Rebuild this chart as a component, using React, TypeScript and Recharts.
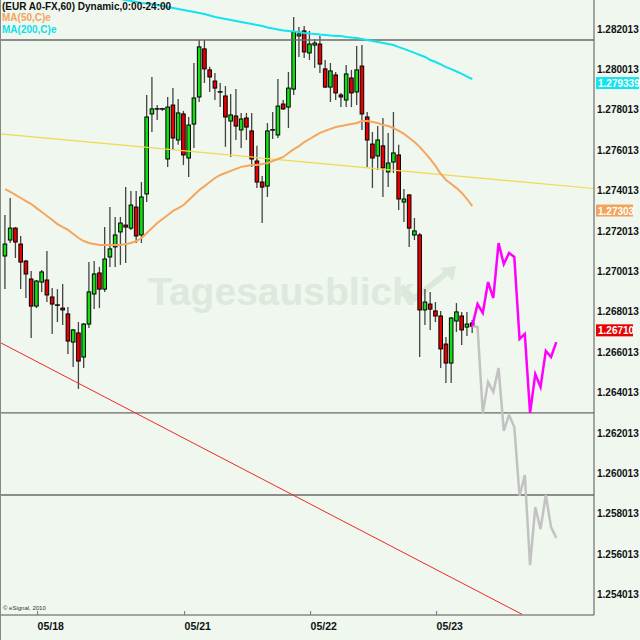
import { Bar, ComposedChart, Line, ReferenceDot, ReferenceLine, XAxis, YAxis } from "recharts";

// hourly EUR/USD candles (60 min)
const opens = [
  1.27078, 1.27157, 1.27216, 1.27137, 1.27053, 1.26964, 1.2683, 1.26949, 1.26959, 1.26875,
  1.26835, 1.2682, 1.26791, 1.26652, 1.26697, 1.26578, 1.26741, 1.2689, 1.26994, 1.26914,
  1.27073, 1.27123, 1.27197, 1.27231, 1.27216, 1.2732, 1.27182, 1.27385, 1.27781, 1.27806,
  1.27806, 1.27558, 1.27825, 1.27652, 1.27781, 1.27563, 1.27731, 1.27865, 1.28103, 1.27999,
  1.27944, 1.2789, 1.2787, 1.27746, 1.27771, 1.27702, 1.27761, 1.27697, 1.27548, 1.27444,
  1.27424, 1.27702, 1.27677, 1.2783, 1.27815, 1.27904, 1.28167, 1.28192, 1.28083, 1.28122,
  1.28127, 1.28004, 1.27914, 1.27974, 1.27875, 1.2785, 1.27959, 1.2789, 1.28018, 1.27766,
  1.27632, 1.27573, 1.27623, 1.27494, 1.27543, 1.27578, 1.27345, 1.2738, 1.27182, 1.27182,
  1.26811, 1.2684, 1.26806, 1.26781, 1.26642, 1.26548, 1.26756, 1.26781, 1.26726, 1.26746,
];
const closes = [
  1.27137, 1.27216, 1.27147, 1.27048, 1.26989, 1.2683, 1.26954, 1.26999, 1.26885, 1.2684,
  1.26833, 1.26811, 1.26657, 1.26712, 1.26558, 1.26741, 1.269, 1.26989, 1.26914, 1.27063,
  1.27113, 1.27182, 1.27241, 1.27221, 1.2733, 1.27177, 1.2737, 1.27766, 1.27806, 1.27806,
  1.27801, 1.27815, 1.27662, 1.27786, 1.27578, 1.27726, 1.2786, 1.28113, 1.28004, 1.27964,
  1.27909, 1.27887, 1.27766, 1.27776, 1.27721, 1.27756, 1.27716, 1.27558, 1.27444, 1.27419,
  1.27697, 1.27699, 1.2782, 1.27806, 1.27909, 1.28187, 1.28177, 1.28088, 1.28127, 1.28132,
  1.28028, 1.27914, 1.27994, 1.27885, 1.27865, 1.27979, 1.27885, 1.27999, 1.27781, 1.27652,
  1.27563, 1.27652, 1.27514, 1.27538, 1.27588, 1.2736, 1.2736, 1.27216, 1.27202, 1.26811,
  1.2685, 1.26815, 1.26781, 1.26618, 1.26548, 1.26771, 1.26801, 1.26712, 1.26741, 1.26731,
];
const highs = [
  1.27281, 1.27365, 1.27221, 1.27177, 1.27058, 1.27004, 1.26959, 1.27009, 1.27103, 1.26919,
  1.26914, 1.26939, 1.26825, 1.26717, 1.26751, 1.26746, 1.27048, 1.27053, 1.27024, 1.27221,
  1.2732, 1.27271, 1.27271, 1.27419, 1.274, 1.274, 1.27444, 1.27875, 1.27964, 1.27825,
  1.27811, 1.27865, 1.27909, 1.27855, 1.27796, 1.27766, 1.28033, 1.28147, 1.28147, 1.28014,
  1.27984, 1.27934, 1.27919, 1.2788, 1.27904, 1.27786, 1.27786, 1.27786, 1.27623, 1.27474,
  1.27736, 1.27791, 1.27954, 1.2785, 1.27989, 1.28261, 1.28211, 1.28216, 1.28192, 1.28152,
  1.28167, 1.28048, 1.28033, 1.27989, 1.27885, 1.28023, 1.27999, 1.28117, 1.28122, 1.27791,
  1.27692, 1.27721, 1.27761, 1.27687, 1.27791, 1.27628, 1.2741, 1.27385, 1.27266, 1.27192,
  1.26914, 1.269, 1.2685, 1.26806, 1.26677, 1.26776, 1.26845, 1.26801, 1.26801, 1.26761,
];
const lows = [
  1.26914, 1.27142, 1.27068, 1.26914, 1.2687, 1.26672, 1.2682, 1.269, 1.2685, 1.26692,
  1.26751, 1.26736, 1.26593, 1.26529, 1.2642, 1.26524, 1.26721, 1.26815, 1.2682, 1.269,
  1.27024, 1.27024, 1.27034, 1.27043, 1.27207, 1.27142, 1.27142, 1.27345, 1.27692, 1.27751,
  1.27796, 1.27519, 1.27603, 1.27628, 1.27528, 1.27469, 1.27613, 1.2784, 1.27934, 1.2789,
  1.2785, 1.27815, 1.27618, 1.27568, 1.27652, 1.27613, 1.27652, 1.27519, 1.27414, 1.27241,
  1.2737, 1.27657, 1.27662, 1.27801, 1.27711, 1.27875, 1.28063, 1.28058, 1.28048, 1.28008,
  1.27984, 1.27909, 1.2784, 1.2785, 1.27815, 1.27815, 1.27815, 1.27825, 1.27702, 1.27519,
  1.27414, 1.27504, 1.2737, 1.27419, 1.27489, 1.27306, 1.27246, 1.27123, 1.27157, 1.26578,
  1.26736, 1.26712, 1.26751, 1.26524, 1.26449, 1.26449, 1.26702, 1.26637, 1.26682, 1.26697,
];

const ma50 = [
  1.27409, 1.27395, 1.2738, 1.27365, 1.2735, 1.27335, 1.27315, 1.27296, 1.27276, 1.27256,
  1.27236, 1.27221, 1.27207, 1.27187, 1.27167, 1.27152, 1.27142, 1.27137, 1.27132, 1.27132,
  1.27132, 1.27132, 1.27132, 1.27137, 1.27142, 1.27152, 1.27167, 1.27192, 1.27216, 1.27241,
  1.27261, 1.27281, 1.27301, 1.27315, 1.2733, 1.27355, 1.2738, 1.27405, 1.27424, 1.27444,
  1.27464, 1.27479, 1.27489, 1.27499, 1.27509, 1.27519, 1.27523, 1.27528, 1.27528, 1.27533,
  1.27538, 1.27548, 1.27558, 1.27568, 1.27588, 1.27607, 1.27622, 1.27642, 1.27657, 1.27672,
  1.27687, 1.27697, 1.27707, 1.27716, 1.27721, 1.27726, 1.27731, 1.27736, 1.27746, 1.27746,
  1.27741, 1.27736, 1.27726, 1.27721, 1.27711, 1.27697, 1.27682, 1.27662, 1.27642, 1.27617,
  1.27588, 1.27558, 1.27523, 1.27484, 1.27454, 1.27434, 1.27414, 1.2739, 1.2736, 1.27325,
];

// MA(200) only shows from bar 22 on (above the window before that)
const ma200Start = 22;
const ma200 = [
  1.2835, 1.28345, 1.2834, 1.28335, 1.2833, 1.28328, 1.28325, 1.2832, 1.28315, 1.2831,
  1.28305, 1.283, 1.28296, 1.28291, 1.28286, 1.28281, 1.28276, 1.28268, 1.28261, 1.28256,
  1.28251, 1.28246, 1.28241, 1.28236, 1.28231, 1.28226, 1.28221, 1.28216, 1.28209, 1.28204,
  1.28199, 1.28194, 1.28192, 1.28189, 1.28187, 1.28182, 1.28179, 1.28177, 1.28174, 1.28172,
  1.28169, 1.28167, 1.28167, 1.28162, 1.28159, 1.28157, 1.28152, 1.28147, 1.28142, 1.28137,
  1.28132, 1.28127, 1.28122, 1.28112, 1.28103, 1.28093, 1.28083, 1.28073, 1.28063, 1.28048,
  1.28038, 1.28026, 1.28013, 1.28003, 1.27991, 1.27979, 1.27966, 1.27954,
];

// projected paths starting at the last close
const forecastStart = 89;
const upPath = [
  1.26731, 1.2684, 1.26796, 1.26949, 1.2687, 1.27142, 1.27038, 1.27093, 1.27073,
  1.26667, 1.26692, 1.26301, 1.26494, 1.2643, 1.26608, 1.26578, 1.26652,
];
const downPath = [
  1.26731, 1.26726, 1.26301, 1.26454, 1.26405, 1.26524, 1.26212, 1.26291, 1.26231,
  1.2589, 1.25994, 1.25548, 1.25835, 1.25726, 1.25895, 1.25736, 1.25682,
];

const levels = [1.28147, 1.26301, 1.25895];
const yellowTrend = [
  { x: -0.96, y: 1.27682 },
  { x: 112.18, y: 1.27412 },
];
const redTrend = [
  { x: -0.96, y: 1.2665 },
  { x: 98.5, y: 1.25304 },
];

const priceTicks = [
  1.254013, 1.256013, 1.258013, 1.260013, 1.262013, 1.264013, 1.266013, 1.268013,
  1.270013, 1.272013, 1.274013, 1.276013, 1.278013, 1.280013, 1.282013,
];
const dayStarts = [6.2, 34.2, 58.2, 82.2];
const dayLabels = ["05/18", "05/21", "05/22", "05/23"];

const lastTags = [
  { value: 1.279339, text: "1.279339", color: "#10e4ec" },
  { value: 1.27303, text: "1.27303", color: "#f2a45c" },
  { value: 1.2671, text: "1.26710", color: "#e80000" },
];

const FONT = "'Liberation Sans', Arial, sans-serif";
const BG = "#eff7ef";

const rows = Array.from({ length: 106 }, (_, i) => {
  const row: any = { x: i };
  if (i < opens.length) {
    row.open = opens[i];
    row.close = closes[i];
    row.high = highs[i];
    row.low = lows[i];
    row.range = [lows[i], highs[i]];
    row.ma50 = ma50[i];
  }
  const m = i - ma200Start;
  if (m >= 0 && m < ma200.length) row.ma200 = ma200[m];
  const f = i - forecastStart;
  if (f >= 0 && f < upPath.length) {
    row.up = upPath[f];
    row.down = downPath[f];
  }
  return row;
});

function Candle(props: any) {
  const { x, y, width, height, payload } = props;
  if (!payload || payload.open == null) return null;
  const { open, close, high, low } = payload;
  const cx = x + width / 2;
  const k = high > low ? height / (high - low) : 0;
  const oy = y + (high - open) * k;
  const cy = y + (high - close) * k;
  const top = Math.min(oy, cy);
  const h = Math.abs(oy - cy);
  return (
    <g>
      <line x1={cx} x2={cx} y1={y} y2={y + height} stroke="#444" strokeWidth={1.3} />
      {h < 1.3 ? (
        <line x1={cx - 2.5} x2={cx + 2.5} y1={top} y2={top} stroke="#000" strokeWidth={1.5} />
      ) : (
        <rect
          x={cx - 1.8}
          y={top}
          width={3.6}
          height={h}
          fill={close > open ? "#12e012" : "#e60000"}
          stroke="#000"
          strokeWidth={1}
        />
      )}
    </g>
  );
}

function DayTick(props: any) {
  const { x, y, payload } = props;
  const label = dayLabels[dayStarts.indexOf(payload.value)];
  return (
    <g>
      <line x1={x} x2={x} y1={y - 4} y2={y} stroke="#777" />
      <text x={x} y={y + 15} fontSize={10.5} fontWeight="bold" fontFamily={FONT} fill="#111">
        {label}
      </text>
    </g>
  );
}

function PriceTag(props: any) {
  const { cx, cy, color, text } = props;
  if (cx == null || cy == null) return null;
  const w = text.length > 7 ? 43 : 37;
  return (
    <g>
      <rect x={cx + 2} y={cy - 6} width={w} height={12} fill={color} />
      <text x={cx + 4} y={cy + 4} fontSize={10} fontWeight="bold" fontFamily={FONT} fill="#fff">
        {text}
      </text>
    </g>
  );
}

export default function App() {
  return (
    <div
      style={{
        position: "absolute",
        left: 0,
        top: 0,
        width: 640,
        height: 640,
        background: BG,
        overflow: "hidden",
      }}
    >
      <svg width={640} height={640} style={{ position: "absolute", left: 0, top: 0 }}>
        <text x={148} y={305} fontSize={39} fontWeight="bold" fontFamily={FONT} fill="#dde9dd">
          Tagesausblick
        </text>
        <polyline
          points="401,286 414,299 450,270"
          fill="none"
          stroke="#dbe9d9"
          strokeWidth={6}
          strokeLinejoin="round"
        />
        <polygon points="456,266 440,268 453,281" fill="#dbe9d9" />
      </svg>
      <div style={{ position: "absolute", left: 0, top: 0 }}>
        <ComposedChart width={640} height={640} data={rows} margin={{ top: 0, right: 0, bottom: 0, left: 0 }}>
          <XAxis
            dataKey="x"
            type="number"
            domain={[-0.96, 112.18]}
            allowDataOverflow
            ticks={dayStarts}
            interval={0}
            height={25}
            tickSize={0}
            tickMargin={0}
            tick={<DayTick />}
            axisLine={{ stroke: "#555" }}
          />
          <YAxis
            orientation="right"
            type="number"
            domain={[1.25301, 1.28345]}
            allowDataOverflow
            ticks={priceTicks}
            interval={0}
            width={46}
            tickSize={0}
            tickMargin={3}
            tickFormatter={(v: number) => v.toFixed(6)}
            tick={{ fill: "#111", fontSize: 10, fontWeight: "bold", fontFamily: FONT }}
            axisLine={{ stroke: "#555" }}
          />
          {levels.map((v) => (
            <ReferenceLine key={v} y={v} stroke="#6a6a6a" strokeWidth={1.3} />
          ))}
          <ReferenceLine segment={yellowTrend} stroke="#f2d84e" strokeWidth={1.2} />
          <ReferenceLine segment={redTrend} stroke="#ee2a2a" strokeWidth={1} />
          <Bar dataKey="range" barSize={5} shape={<Candle />} activeBar={false} isAnimationActive={false} />
          <Line
            dataKey="ma50"
            type="linear"
            stroke="#f5a65c"
            strokeWidth={2}
            dot={false}
            activeDot={false}
            isAnimationActive={false}
          />
          <Line
            dataKey="ma200"
            type="linear"
            stroke="#14e2ee"
            strokeWidth={2}
            dot={false}
            activeDot={false}
            isAnimationActive={false}
          />
          <Line
            dataKey="down"
            type="linear"
            stroke="#c2c2c2"
            strokeWidth={2.5}
            dot={false}
            activeDot={false}
            isAnimationActive={false}
          />
          <Line
            dataKey="up"
            type="linear"
            stroke="#ff00ff"
            strokeWidth={2.5}
            dot={false}
            activeDot={false}
            isAnimationActive={false}
          />
          {lastTags.map((t) => (
            <ReferenceDot
              key={t.text}
              x={112.18}
              y={t.value}
              r={0}
              shape={(p: any) => <PriceTag {...p} color={t.color} text={t.text} />}
            />
          ))}
        </ComposedChart>
      </div>
      <svg width={640} height={640} style={{ position: "absolute", left: 0, top: 0, pointerEvents: "none" }}>
        <line x1={0.5} x2={0.5} y1={0} y2={640} stroke="#888" />
        <text x={2} y={9.5} fontSize={10} fontWeight="bold" fontFamily={FONT} fill="#111">
          (EUR A0-FX,60) Dynamic,0:00-24:00
        </text>
        <text x={2} y={21} fontSize={10} fontWeight="bold" fontFamily={FONT} fill="#f2a45c">
          MA(50,C)e
        </text>
        <text x={2} y={33} fontSize={10} fontWeight="bold" fontFamily={FONT} fill="#10dde8">
          MA(200,C)e
        </text>
        <text x={3} y={610} fontSize={6} fontFamily={FONT} fill="#333">
          © eSignal, 2010
        </text>
      </svg>
    </div>
  );
}
